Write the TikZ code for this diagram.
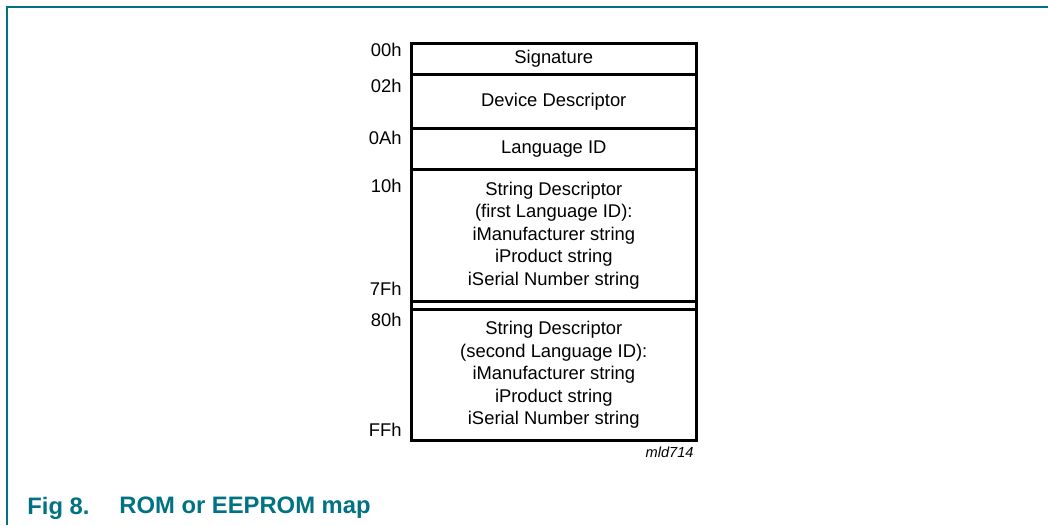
\documentclass[tikz,border=0pt]{standalone}
\usepackage{fontspec}
\setmainfont{Liberation Sans}
\definecolor{nxpteal}{RGB}{0,114,130}
\begin{document}
\begin{tikzpicture}[x=0.5pt,y=-0.5pt,
  sect/.style={draw,line width=1.3pt,minimum width=142.5pt,inner sep=0pt,anchor=north west,align=center,
    font=\fontsize{9.2}{11.25}\selectfont},
  addr/.style={anchor=east,inner sep=0pt,font=\fontsize{9.2}{11}\selectfont},
  frameline/.style={draw=nxpteal,line width=1pt}]
\useasboundingbox (0,0) rectangle (1048,525);
\coordinate (ftop) at (1048,7);
\coordinate (fcorner) at (6.5,7);
\coordinate (fbot) at (6.5,525);
\draw[frameline] (ftop) -- (fcorner) -- (fbot);
\node[sect,minimum height=15.5pt] (sig) at (410,42) {Signature};
\node[sect,minimum height=27pt] (dev) at (410,73) {Device Descriptor};
\node[sect,minimum height=20.5pt] (lang) at (410,127) {Language ID};
\node[sect,minimum height=66pt] (str1) at (410,168) {String Descriptor\\(first Language ID):\\iManufacturer string\\iProduct string\\iSerial Number string};
\node[sect,minimum height=4pt] (gap) at (410,300) {};
\node[sect,minimum height=65.5pt] (str2) at (410,308) {String Descriptor\\(second Language ID):\\iManufacturer string\\iProduct string\\iSerial Number string};
\node[addr] (a00) at (402,50) {00h};
\node[addr] (a02) at (402,86) {02h};
\node[addr] (a0A) at (402,138) {0Ah};
\node[addr] (a10) at (402,186) {10h};
\node[addr] (a7F) at (402,289) {7Fh};
\node[addr] (a80) at (402,320) {80h};
\node[addr] (aFF) at (402,430) {FFh};
\node[anchor=east,inner sep=0pt,font=\fontsize{7.3}{8}\selectfont\itshape] (code) at (694,452) {mld714};
\node[anchor=west,inner sep=0pt,text=nxpteal,font=\fontsize{11.9}{13}\selectfont\bfseries] (fig) at (27,508) {Fig 8.};
\node[anchor=west,inner sep=0pt,text=nxpteal,font=\fontsize{11.9}{13}\selectfont\bfseries] (title) at (119,508) {ROM or EEPROM map};
\end{tikzpicture}
\end{document}
